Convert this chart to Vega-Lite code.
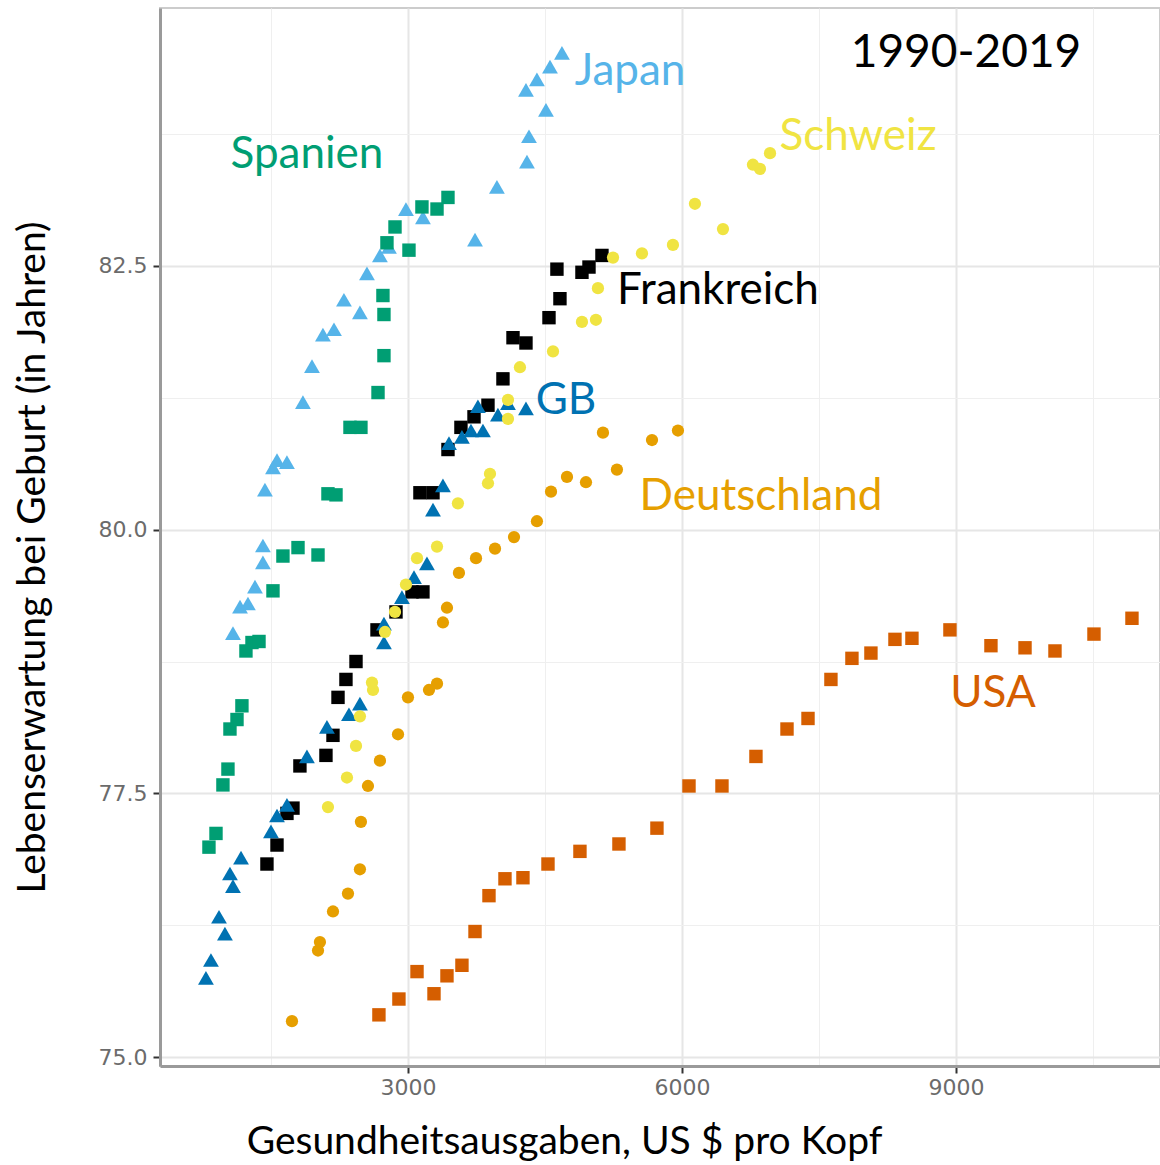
{
  "$schema": "https://vega.github.io/schema/vega-lite/v6.json",
  "width": 1000,
  "height": 1058,
  "autosize": {"type": "none"},
  "padding": {"left": 160, "top": 8, "right": 0, "bottom": 99},
  "background": "white",
  "datasets": {
    "points": [
      {"country":"Japan","spend":1084,"life":79.02},{"country":"Japan","spend":1161,"life":79.27},{"country":"Japan","spend":1248,"life":79.30},{"country":"Japan","spend":1325,"life":79.46},{"country":"Japan","spend":1412,"life":79.69},{"country":"Japan","spend":1412,"life":79.85},{"country":"Japan","spend":1434,"life":80.38},{"country":"Japan","spend":1522,"life":80.59},{"country":"Japan","spend":1566,"life":80.66},{"country":"Japan","spend":1675,"life":80.64},{"country":"Japan","spend":1850,"life":81.21},{"country":"Japan","spend":1949,"life":81.55},{"country":"Japan","spend":2069,"life":81.85},{"country":"Japan","spend":2190,"life":81.90},{"country":"Japan","spend":2299,"life":82.18},{"country":"Japan","spend":2474,"life":82.06},{"country":"Japan","spend":2551,"life":82.43},{"country":"Japan","spend":2693,"life":82.60},{"country":"Japan","spend":2792,"life":82.68},{"country":"Japan","spend":2978,"life":83.04},{"country":"Japan","spend":3164,"life":82.96},{"country":"Japan","spend":3734,"life":82.75},{"country":"Japan","spend":3974,"life":83.25},{"country":"Japan","spend":4303,"life":83.49},{"country":"Japan","spend":4325,"life":83.73},{"country":"Japan","spend":4511,"life":83.98},{"country":"Japan","spend":4292,"life":84.17},{"country":"Japan","spend":4412,"life":84.27},{"country":"Japan","spend":4555,"life":84.39},{"country":"Japan","spend":4686,"life":84.52},
      {"country":"Spanien","spend":821,"life":76.99},{"country":"Spanien","spend":898,"life":77.12},{"country":"Spanien","spend":974,"life":77.58},{"country":"Spanien","spend":1029,"life":77.73},{"country":"Spanien","spend":1051,"life":78.11},{"country":"Spanien","spend":1128,"life":78.20},{"country":"Spanien","spend":1182,"life":78.33},{"country":"Spanien","spend":1226,"life":78.85},{"country":"Spanien","spend":1292,"life":78.93},{"country":"Spanien","spend":1369,"life":78.94},{"country":"Spanien","spend":1522,"life":79.42},{"country":"Spanien","spend":1631,"life":79.75},{"country":"Spanien","spend":1796,"life":79.83},{"country":"Spanien","spend":2015,"life":79.76},{"country":"Spanien","spend":2124,"life":80.34},{"country":"Spanien","spend":2212,"life":80.33},{"country":"Spanien","spend":2365,"life":80.97},{"country":"Spanien","spend":2485,"life":80.97},{"country":"Spanien","spend":2672,"life":81.30},{"country":"Spanien","spend":2737,"life":81.65},{"country":"Spanien","spend":2737,"life":82.04},{"country":"Spanien","spend":2726,"life":82.22},{"country":"Spanien","spend":3011,"life":82.65},{"country":"Spanien","spend":2770,"life":82.72},{"country":"Spanien","spend":2858,"life":82.87},{"country":"Spanien","spend":3153,"life":83.06},{"country":"Spanien","spend":3318,"life":83.04},{"country":"Spanien","spend":3438,"life":83.15},
      {"country":"Frankreich","spend":1456,"life":76.83},{"country":"Frankreich","spend":1566,"life":77.01},{"country":"Frankreich","spend":1675,"life":77.31},{"country":"Frankreich","spend":1741,"life":77.36},{"country":"Frankreich","spend":1817,"life":77.76},{"country":"Frankreich","spend":2102,"life":77.86},{"country":"Frankreich","spend":2179,"life":78.05},{"country":"Frankreich","spend":2234,"life":78.41},{"country":"Frankreich","spend":2321,"life":78.58},{"country":"Frankreich","spend":2431,"life":78.75},{"country":"Frankreich","spend":2661,"life":79.05},{"country":"Frankreich","spend":2869,"life":79.22},{"country":"Frankreich","spend":3044,"life":79.41},{"country":"Frankreich","spend":3164,"life":79.41},{"country":"Frankreich","spend":3131,"life":80.35},{"country":"Frankreich","spend":3274,"life":80.35},{"country":"Frankreich","spend":3438,"life":80.76},{"country":"Frankreich","spend":3580,"life":80.97},{"country":"Frankreich","spend":3723,"life":81.07},{"country":"Frankreich","spend":3876,"life":81.18},{"country":"Frankreich","spend":4040,"life":81.43},{"country":"Frankreich","spend":4150,"life":81.82},{"country":"Frankreich","spend":4292,"life":81.77},{"country":"Frankreich","spend":4544,"life":82.01},{"country":"Frankreich","spend":4664,"life":82.19},{"country":"Frankreich","spend":4631,"life":82.47},{"country":"Frankreich","spend":4905,"life":82.44},{"country":"Frankreich","spend":4982,"life":82.49},{"country":"Frankreich","spend":5124,"life":82.60},
      {"country":"GB","spend":788,"life":75.75},{"country":"GB","spend":843,"life":75.92},{"country":"GB","spend":996,"life":76.17},{"country":"GB","spend":931,"life":76.33},{"country":"GB","spend":1084,"life":76.62},{"country":"GB","spend":1051,"life":76.74},{"country":"GB","spend":1172,"life":76.89},{"country":"GB","spend":1500,"life":77.14},{"country":"GB","spend":1566,"life":77.29},{"country":"GB","spend":1675,"life":77.39},{"country":"GB","spend":1894,"life":77.85},{"country":"GB","spend":2113,"life":78.13},{"country":"GB","spend":2354,"life":78.25},{"country":"GB","spend":2474,"life":78.35},{"country":"GB","spend":2737,"life":78.93},{"country":"GB","spend":2737,"life":79.11},{"country":"GB","spend":2934,"life":79.36},{"country":"GB","spend":3066,"life":79.55},{"country":"GB","spend":3208,"life":79.68},{"country":"GB","spend":3274,"life":80.19},{"country":"GB","spend":3383,"life":80.42},{"country":"GB","spend":3449,"life":80.82},{"country":"GB","spend":3591,"life":80.88},{"country":"GB","spend":3690,"life":80.94},{"country":"GB","spend":3821,"life":80.94},{"country":"GB","spend":3766,"life":81.17},{"country":"GB","spend":3985,"life":81.09},{"country":"GB","spend":4095,"life":81.20},{"country":"GB","spend":4292,"life":81.15},
      {"country":"Schweiz","spend":2124,"life":77.37},{"country":"Schweiz","spend":2332,"life":77.65},{"country":"Schweiz","spend":2431,"life":77.95},{"country":"Schweiz","spend":2474,"life":78.23},{"country":"Schweiz","spend":2617,"life":78.48},{"country":"Schweiz","spend":2606,"life":78.55},{"country":"Schweiz","spend":2748,"life":79.03},{"country":"Schweiz","spend":2858,"life":79.22},{"country":"Schweiz","spend":2978,"life":79.48},{"country":"Schweiz","spend":3099,"life":79.73},{"country":"Schweiz","spend":3318,"life":79.84},{"country":"Schweiz","spend":3547,"life":80.25},{"country":"Schweiz","spend":3876,"life":80.44},{"country":"Schweiz","spend":3898,"life":80.53},{"country":"Schweiz","spend":4095,"life":81.05},{"country":"Schweiz","spend":4095,"life":81.23},{"country":"Schweiz","spend":4226,"life":81.54},{"country":"Schweiz","spend":4588,"life":81.69},{"country":"Schweiz","spend":4905,"life":81.97},{"country":"Schweiz","spend":5058,"life":81.99},{"country":"Schweiz","spend":5080,"life":82.29},{"country":"Schweiz","spend":5245,"life":82.58},{"country":"Schweiz","spend":5562,"life":82.62},{"country":"Schweiz","spend":5901,"life":82.70},{"country":"Schweiz","spend":6449,"life":82.85},{"country":"Schweiz","spend":6142,"life":83.09},{"country":"Schweiz","spend":6777,"life":83.46},{"country":"Schweiz","spend":6854,"life":83.42},{"country":"Schweiz","spend":6964,"life":83.57},
      {"country":"Deutschland","spend":1730,"life":75.34},{"country":"Deutschland","spend":2015,"life":76.01},{"country":"Deutschland","spend":2036,"life":76.09},{"country":"Deutschland","spend":2179,"life":76.38},{"country":"Deutschland","spend":2343,"life":76.55},{"country":"Deutschland","spend":2474,"life":76.78},{"country":"Deutschland","spend":2485,"life":77.23},{"country":"Deutschland","spend":2562,"life":77.57},{"country":"Deutschland","spend":2693,"life":77.81},{"country":"Deutschland","spend":2891,"life":78.06},{"country":"Deutschland","spend":3000,"life":78.41},{"country":"Deutschland","spend":3230,"life":78.48},{"country":"Deutschland","spend":3318,"life":78.54},{"country":"Deutschland","spend":3383,"life":79.12},{"country":"Deutschland","spend":3427,"life":79.26},{"country":"Deutschland","spend":3558,"life":79.59},{"country":"Deutschland","spend":3745,"life":79.73},{"country":"Deutschland","spend":3953,"life":79.82},{"country":"Deutschland","spend":4161,"life":79.93},{"country":"Deutschland","spend":4412,"life":80.08},{"country":"Deutschland","spend":4566,"life":80.36},{"country":"Deutschland","spend":4741,"life":80.50},{"country":"Deutschland","spend":4949,"life":80.45},{"country":"Deutschland","spend":5288,"life":80.57},{"country":"Deutschland","spend":5135,"life":80.92},{"country":"Deutschland","spend":5672,"life":80.85},{"country":"Deutschland","spend":5956,"life":80.94},
      {"country":"USA","spend":2682,"life":75.40},{"country":"USA","spend":2901,"life":75.55},{"country":"USA","spend":3285,"life":75.60},{"country":"USA","spend":3099,"life":75.81},{"country":"USA","spend":3427,"life":75.77},{"country":"USA","spend":3591,"life":75.87},{"country":"USA","spend":3734,"life":76.19},{"country":"USA","spend":3887,"life":76.53},{"country":"USA","spend":4062,"life":76.69},{"country":"USA","spend":4259,"life":76.70},{"country":"USA","spend":4533,"life":76.83},{"country":"USA","spend":4883,"life":76.95},{"country":"USA","spend":5310,"life":77.02},{"country":"USA","spend":5726,"life":77.17},{"country":"USA","spend":6077,"life":77.57},{"country":"USA","spend":6438,"life":77.57},{"country":"USA","spend":6810,"life":77.85},{"country":"USA","spend":7150,"life":78.11},{"country":"USA","spend":7380,"life":78.21},{"country":"USA","spend":7631,"life":78.58},{"country":"USA","spend":7861,"life":78.78},{"country":"USA","spend":8069,"life":78.83},{"country":"USA","spend":8332,"life":78.96},{"country":"USA","spend":8518,"life":78.97},{"country":"USA","spend":8934,"life":79.05},{"country":"USA","spend":9383,"life":78.90},{"country":"USA","spend":9756,"life":78.88},{"country":"USA","spend":10084,"life":78.85},{"country":"USA","spend":10511,"life":79.01},{"country":"USA","spend":10927,"life":79.16}
    ],
    "labels": [
      {"country":"Japan","label":"Japan","spend":5431,"life":84.34},
      {"country":"Spanien","label":"Spanien","spend":1894,"life":83.55},
      {"country":"Schweiz","label":"Schweiz","spend":7927,"life":83.72},
      {"country":"Frankreich","label":"Frankreich","spend":6394,"life":82.26},
      {"country":"GB","label":"GB","spend":4730,"life":81.22},
      {"country":"Deutschland","label":"Deutschland","spend":6865,"life":80.31},
      {"country":"USA","label":"USA","spend":9405,"life":78.44}
    ],
    "period": [
      {"label":"1990-2019","spend":9110,"life":84.52}
    ]
  },
  "data": {"name": "points"},
  "encoding": {
    "x": {
      "field": "spend", "type": "quantitative",
      "scale": {"domain": [285, 11234], "nice": false, "zero": false},
      "axis": {
        "values": [1500, 3000, 4500, 6000, 7500, 9000, 10500],
        "format": "d",
        "labelExpr": "datum.value % 3000 === 0 ? datum.label : ''",
        "title": "Gesundheitsausgaben, US $ pro Kopf",
        "titleX": 404, "titleY": 87, "titleAlign": "center", "titleBaseline": "alphabetic",
        "gridWidth": {"condition": {"test": "datum.value % 3000 === 0", "value": 2}, "value": 1},
        "gridColor": {"condition": {"test": "datum.value % 3000 === 0", "value": "#e6e6e6"}, "value": "#efefef"},
        "tickOpacity": {"condition": {"test": "datum.value % 3000 === 0", "value": 1}, "value": 0},
        "labelPadding": 4
      }
    },
    "y": {
      "field": "life", "type": "quantitative",
      "scale": {"domain": [74.915, 84.946], "nice": false, "zero": false},
      "axis": {
        "values": [75, 76.25, 77.5, 78.75, 80, 81.25, 82.5, 83.75],
        "labelExpr": "datum.value % 2.5 === 0 ? format(datum.value, '.1f') : ''",
        "title": "Lebenserwartung bei Geburt (in Jahren)",
        "titleX": -116, "titleY": 549, "titleAngle": -90, "titleAlign": "center", "titleBaseline": "alphabetic",
        "gridWidth": {"condition": {"test": "datum.value % 2.5 === 0", "value": 2}, "value": 1},
        "gridColor": {"condition": {"test": "datum.value % 2.5 === 0", "value": "#e6e6e6"}, "value": "#efefef"},
        "tickOpacity": {"condition": {"test": "datum.value % 2.5 === 0", "value": 1}, "value": 0},
        "labelPadding": 6
      }
    },
    "color": {
      "field": "country", "type": "nominal", "legend": null,
      "scale": {
        "domain": ["Japan", "Spanien", "Schweiz", "Frankreich", "GB", "Deutschland", "USA"],
        "range": ["#56B4E9", "#009E73", "#F0E442", "#000000", "#0072B2", "#E69F00", "#D55E00"]
      }
    }
  },
  "layer": [
    {
      "transform": [{"filter": "datum.country === 'Japan'"}],
      "mark": {"type": "point", "filled": true, "opacity": 1, "strokeWidth": 0, "shape": "triangle-up", "size": 250}
    },
    {
      "transform": [{"filter": "datum.country === 'Spanien'"}],
      "mark": {"type": "point", "filled": true, "opacity": 1, "strokeWidth": 0, "shape": "square", "size": 180}
    },
    {
      "transform": [{"filter": "datum.country === 'Frankreich'"}],
      "mark": {"type": "point", "filled": true, "opacity": 1, "strokeWidth": 0, "shape": "square", "size": 180}
    },
    {
      "transform": [{"filter": "datum.country === 'GB'"}],
      "mark": {"type": "point", "filled": true, "opacity": 1, "strokeWidth": 0, "shape": "triangle-up", "size": 250}
    },
    {
      "transform": [{"filter": "datum.country === 'Schweiz'"}],
      "mark": {"type": "point", "filled": true, "opacity": 1, "strokeWidth": 0, "shape": "circle", "size": 150}
    },
    {
      "transform": [{"filter": "datum.country === 'Deutschland'"}],
      "mark": {"type": "point", "filled": true, "opacity": 1, "strokeWidth": 0, "shape": "circle", "size": 150}
    },
    {
      "transform": [{"filter": "datum.country === 'USA'"}],
      "mark": {"type": "point", "filled": true, "opacity": 1, "strokeWidth": 0, "shape": "square", "size": 180}
    },
    {
      "data": {"name": "labels"},
      "mark": {"type": "text", "font": "Lato", "fontSize": 44, "align": "center", "baseline": "middle"},
      "encoding": {"text": {"field": "label"}}
    },
    {
      "data": {"name": "period"},
      "mark": {"type": "text", "font": "Lato", "fontSize": 46, "align": "center", "baseline": "middle", "color": "#000000"},
      "encoding": {"text": {"field": "label"}, "color": {"value": "#000000"}}
    }
  ],
  "config": {
    "view": {"stroke": "#cccccc", "strokeWidth": 2},
    "axis": {
      "domainColor": "#9a9a9a",
      "domainWidth": 3,
      "tickColor": "#333333",
      "tickWidth": 2,
      "tickSize": 7,
      "labelFont": "DejaVu Sans",
      "labelFontSize": 22,
      "labelColor": "#6b6b6b",
      "titleFont": "Lato",
      "titleFontSize": 39,
      "titleFontWeight": "normal",
      "titleColor": "#000000"
    }
  }
}
